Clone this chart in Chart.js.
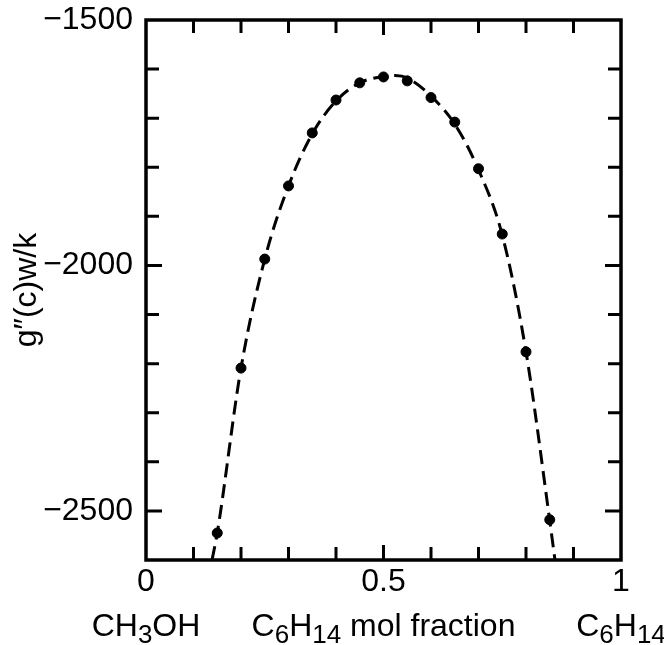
<!DOCTYPE html>
<html>
<head>
<meta charset="utf-8">
<script src="https://cdn.jsdelivr.net/npm/chart.js@4.4.0/dist/chart.umd.min.js"></script>
<style>
  html, body { margin: 0; padding: 0; background: #fff; }
  #wrap { width: 664px; height: 645px; }
</style>
</head>
<body>
<div id="wrap"><canvas id="chart" width="664" height="645"></canvas></div>
<script>
// measured points (mol fraction of C6H14, g''(c) w/k)
const fracX = [0.15, 0.2, 0.25, 0.3, 0.35, 0.4, 0.45, 0.5, 0.55, 0.6, 0.65, 0.7, 0.75, 0.8, 0.85];
const gValues = [-2545, -2209, -1987, -1838, -1730, -1663, -1628, -1616, -1624, -1658, -1708, -1803, -1936, -2176, -2518];

// dashed fit curve (runs to the bottom axis)
const curveX = [0.139, 0.15, 0.2, 0.25, 0.3, 0.35, 0.4, 0.45, 0.5, 0.525, 0.55, 0.6, 0.65, 0.7, 0.75, 0.8, 0.85, 0.861];
const curveY = [-2600, -2545, -2209, -1987, -1838, -1732, -1665, -1628, -1615, -1613, -1618, -1655, -1712, -1805, -1938, -2176, -2520, -2600];

const yLabelValues = [-2500, -2000, -1500];
const xLabelValues = [0, 0.5, 1];
const xAxisLabels = [
  [['CH', 0], ['3', 1], ['OH', 0]],
  [['C', 0], ['6', 1], ['H', 0], ['14', 1], [' mol fraction', 0]],
  [['C', 0], ['6', 1], ['H', 0], ['14', 1]]
];
const yTitle = 'g\u2033(c)w/k';

const FONT = "'Liberation Sans', Arial, sans-serif";

const toPts = (xs, ys) => xs.map((x, i) => ({ x: x, y: ys[i] }));
const near = (a, b) => Math.abs(a - b) < 1e-6;

// frame, inward ticks on all four sides, and the captions
const framePlugin = {
  id: 'frame',
  afterDraw(chart) {
    const ctx = chart.ctx;
    const a = chart.chartArea;
    const xs = chart.scales.x, ys = chart.scales.y;
    ctx.save();
    ctx.strokeStyle = '#000';
    ctx.lineWidth = 3.5;
    ctx.strokeRect(a.left, a.top, a.right - a.left, a.bottom - a.top);

    ctx.lineWidth = 3;
    ctx.beginPath();
    xs.ticks.forEach(t => {
      const px = xs.getPixelForValue(t.value);
      if (near(t.value, 0) || near(t.value, 1)) return;
      const len = near(t.value, 0.5) ? 15 : 13;
      ctx.moveTo(px, a.bottom); ctx.lineTo(px, a.bottom - len);
      ctx.moveTo(px, a.top); ctx.lineTo(px, a.top + len);
    });
    ys.ticks.forEach(t => {
      const py = ys.getPixelForValue(t.value);
      if (t.value === ys.min || t.value === ys.max) return;
      const len = t.value % 500 === 0 ? 16 : 13;
      ctx.moveTo(a.left, py); ctx.lineTo(a.left + len, py);
      ctx.moveTo(a.right, py); ctx.lineTo(a.right - len, py);
    });
    ctx.stroke();

    // captions under 0, 0.5 and 1
    ctx.fillStyle = '#000';
    ctx.textBaseline = 'alphabetic';
    ctx.textAlign = 'left';
    const size = 32, sub = 26;
    xAxisLabels.forEach((parts, i) => {
      let w = 0;
      parts.forEach(p => { ctx.font = (p[1] ? sub : size) + 'px ' + FONT; w += ctx.measureText(p[0]).width; });
      let x = xs.getPixelForValue(xLabelValues[i]) - w / 2;
      parts.forEach(p => {
        ctx.font = (p[1] ? sub : size) + 'px ' + FONT;
        ctx.fillText(p[0], x, 636 + (p[1] ? 7 : 0));
        x += ctx.measureText(p[0]).width;
      });
    });

    // y title
    ctx.translate(36, (a.top + a.bottom) / 2);
    ctx.rotate(-Math.PI / 2);
    ctx.textAlign = 'center';
    ctx.font = '32px ' + FONT;
    ctx.fillText(yTitle, 0, 0);
    ctx.restore();
  }
};

new Chart(document.getElementById('chart'), {
  type: 'scatter',
  data: {
    datasets: [
      {
        type: 'line',
        data: toPts(curveX, curveY),
        borderColor: '#000',
        borderWidth: 3,
        borderDash: [14, 7],
        pointRadius: 0,
        cubicInterpolationMode: 'monotone',
        fill: false
      },
      {
        data: toPts(fracX, gValues),
        backgroundColor: '#000',
        borderColor: '#000',
        pointRadius: 5,
        pointHoverRadius: 5
      }
    ]
  },
  plugins: [framePlugin],
  options: {
    responsive: false,
    animation: false,
    layout: { padding: { top: 20, right: 43, left: 0, bottom: 0 } },
    plugins: { legend: { display: false }, tooltip: { enabled: false } },
    scales: {
      x: {
        type: 'linear',
        min: 0, max: 1,
        grid: { display: false, drawTicks: false },
        border: { display: false },
        afterFit(scale) { scale.height = 85; scale.paddingLeft = 0; scale.paddingRight = 0; },
        ticks: {
          stepSize: 0.1,
          autoSkip: false,
          maxRotation: 0,
          padding: 6,
          color: '#000',
          font: { family: FONT, size: 32, lineHeight: 1 },
          callback: v => xLabelValues.some(l => near(l, v)) ? String(Math.round(v * 10) / 10) : ''
        }
      },
      y: {
        type: 'linear',
        min: -2600, max: -1500,
        grid: { display: false, drawTicks: false },
        border: { display: false },
        afterFit(scale) { scale.width = 146; scale.paddingTop = 0; scale.paddingBottom = 0; },
        ticks: {
          stepSize: 100,
          autoSkip: false,
          padding: 13,
          color: '#000',
          font: { family: FONT, size: 32, lineHeight: 1 },
          callback: v => yLabelValues.includes(v) ? '\u2212' + Math.abs(v) : ''
        }
      }
    }
  }
});
</script>
</body>
</html>
